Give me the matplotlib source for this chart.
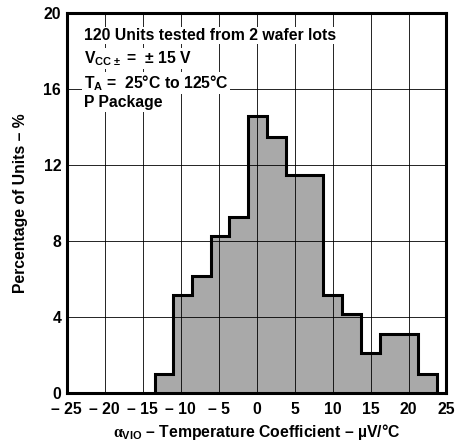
import numpy as np
import matplotlib.pyplot as plt

plt.rcParams['font.family'] = ['Liberation Sans', 'DejaVu Sans']
plt.rcParams['font.weight'] = 'bold'
plt.rcParams['axes.labelweight'] = 'bold'
plt.rcParams['mathtext.fontset'] = 'custom'
plt.rcParams['mathtext.rm'] = 'Liberation Sans:bold'
plt.rcParams['mathtext.bf'] = 'Liberation Sans:bold'
plt.rcParams['mathtext.it'] = 'Liberation Serif'

# bin edges (uV/degC) and percentage of units in each bin
edges = [-13.4, -11.0, -8.5, -6.0, -3.6, -1.1, 1.4, 3.9, 6.3,
         8.8, 11.3, 13.8, 16.3, 18.7, 21.2, 23.7]
pct = [1.0, 5.2, 6.2, 8.3, 9.3, 14.6, 13.5, 11.5, 11.5,
       5.2, 4.2, 2.1, 3.1, 3.1, 1.0]

xticks = [-25, -20, -15, -10, -5, 0, 5, 10, 15, 20, 25]
xticklabels = ['– 25', '– 20', '– 15', '– 10', '– 5', '0', '5', '10', '15', '20', '25']
yticks = [0, 4, 8, 12, 16, 20]

fs = 11.3

fig = plt.figure(figsize=(4.57, 4.46), dpi=100)
ax = fig.add_axes([0.146, 0.118, 0.831, 0.852])

ax.stairs(pct, edges, baseline=0, fill=True, color='#a9a9a9', zorder=1)
ax.set_xticks(xticks)
ax.set_yticks(yticks)
ax.grid(True, color='black', linewidth=0.6, zorder=2)
ax.set_axisbelow(False)
ax.stairs(pct, edges, baseline=0, fill=False, color='black', linewidth=2.2, zorder=3)

ax.set_xlim(-25, 25)
ax.set_ylim(0, 20)
ax.set_xticklabels(xticklabels)
ax.tick_params(length=0, labelsize=fs, pad=4)
ax.tick_params(axis='x', pad=6)
for s in ax.spines.values():
    s.set_linewidth(2.2)
    s.set_zorder(4)

ax.set_xlabel(r'$\alpha_{\mathrm{VIO}}$ – Temperature Coefficient – µV/°C',
              fontsize=fs, labelpad=4)
ax.set_ylabel('Percentage of Units – %', fontsize=fs, labelpad=11)

tx = 0.045
box = dict(facecolor='white', edgecolor='none', pad=1)
ax.text(tx, 0.93, '120 Units tested from 2 wafer lots', transform=ax.transAxes,
        fontsize=fs, va='baseline', zorder=5, bbox=box)
ax.text(tx, 0.869, r'V$_{\mathrm{CC}\,\pm}$ =  ± 15 V', transform=ax.transAxes,
        fontsize=fs, va='baseline', zorder=5, bbox=box)
ax.text(tx, 0.803, r'T$_{\mathrm{A}}$ =  25°C to 125°C', transform=ax.transAxes,
        fontsize=fs, va='baseline', zorder=5, bbox=box)
ax.text(tx, 0.753, 'P Package', transform=ax.transAxes,
        fontsize=fs, va='baseline', zorder=5, bbox=box)

fig.savefig('out.png', dpi=100)
